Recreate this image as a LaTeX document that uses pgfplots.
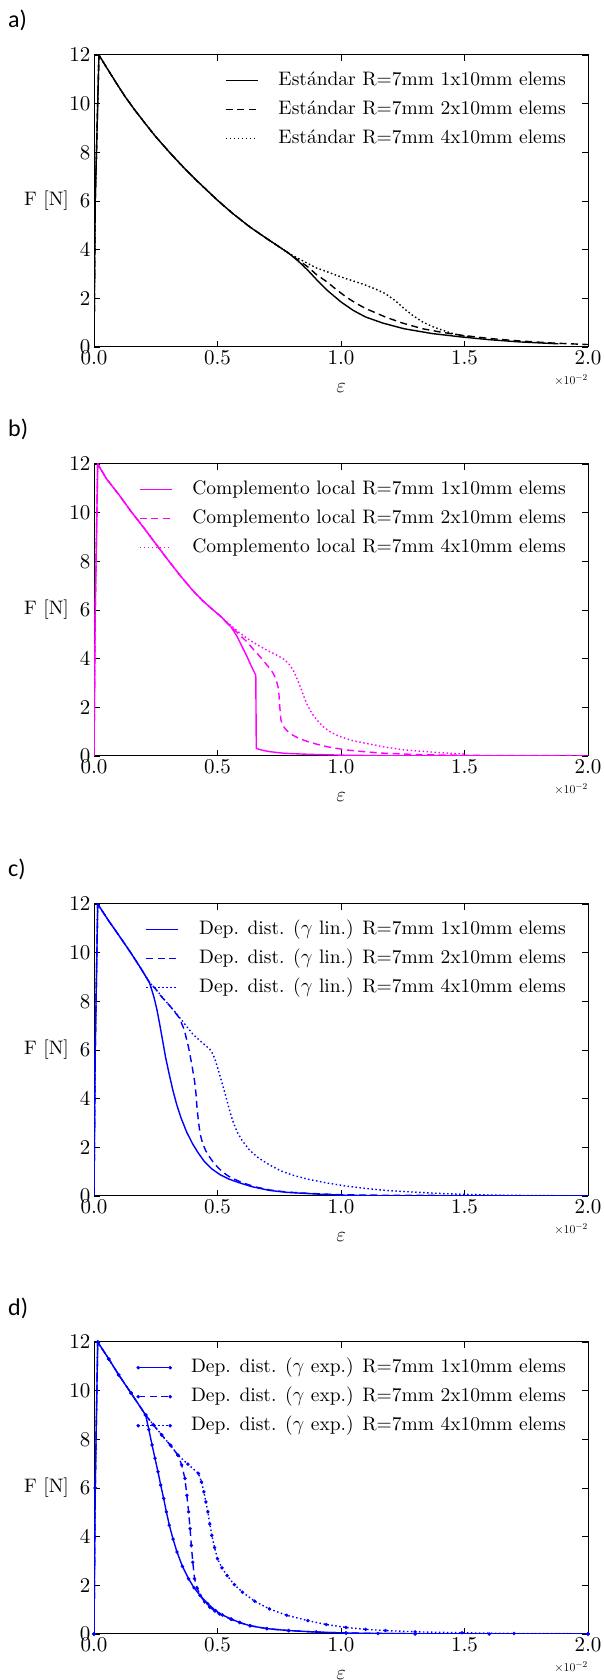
\documentclass[border=0pt]{standalone}
\usepackage{fontspec}
\setmainfont{lmroman10-regular.otf}
\newfontfamily\labfont{Carlito}
\usepackage{pgfplots}
\pgfplotsset{compat=1.18}
\definecolor{mag}{rgb}{1,0,1}
\definecolor{blu}{rgb}{0,0,1}

\pgfplotsset{
  panel/.style={
    width=494pt, height=292pt, scale only axis,
    anchor=south west,
    xmin=0, xmax=2, ymin=0, ymax=12,
    xtick={0,0.5,1,1.5,2}, xticklabels={0.0,0.5,1.0,1.5,2.0},
    ytick={0,2,4,6,8,10,12}, yticklabels={0,2,4,6,8,10,12},
    tick align=inside, xtick pos=both, ytick pos=both,
    major tick length=6pt,
    tick style={line width=0.8pt, black},
    axis line style={line width=1pt},
    tick label style={font=\fontsize{21}{25}\selectfont},
    every axis plot/.append style={line width=1.4pt},
    legend cell align=left,
    legend style={draw=none, fill=none, at={(rel axis cs:1,1)}, anchor=north east,
      xshift=-17pt, yshift=-12pt, font=\fontsize{19.5}{23}\selectfont, row sep=6pt,
      nodes={inner sep=2pt, text height=14pt, text depth=5pt},
      /tikz/every odd column/.append style={column sep=18pt}},
    legend image code/.code={\draw[##1] plot coordinates {(0pt,0pt) (32pt,0pt)};},
  },
  dsh/.style={dash pattern=on 7pt off 4.5pt},
  dot/.style={dash pattern=on 1.5pt off 2.5pt},
  mk/.style={mark=*, mark size=0.9pt, mark options={solid}},
}

\begin{document}
\begin{tikzpicture}
\path[use as bounding box] (0pt,0pt) rectangle (604pt,1680pt);

% ---------------- a) Estandar
\begin{axis}[panel, name=pa, at={(94pt,1333pt)}]
\addplot[black] coordinates {(0,0)(0.005,6)(0.02,12)(0.05,11.5)(0.087,10.9)(0.125,10.3)(0.165,9.74)(0.21,9.15)(0.25,8.64)(0.31,7.95)(0.37,7.3)(0.43,6.7)(0.5,6.03)(0.56,5.5)(0.63,4.94)(0.7,4.45)(0.77,3.98)(0.79,3.84)
  (0.83,3.5)(0.866,3.15)(0.9,2.78)(0.944,2.33)(1.0,1.85)(1.05,1.5)(1.1,1.23)(1.17,0.98)(1.255,0.75)(1.37,0.55)(1.49,0.41)(1.6,0.3)(1.72,0.21)(1.88,0.13)};
\addlegendentry{Estándar R=7mm 1x10mm elems}
\addplot[black, dsh] coordinates {(0,0)(0.005,6)(0.02,12)(0.05,11.5)(0.087,10.9)(0.125,10.3)(0.165,9.74)(0.21,9.15)(0.25,8.64)(0.31,7.95)(0.37,7.3)(0.43,6.7)(0.5,6.03)(0.56,5.5)(0.63,4.94)(0.7,4.45)(0.77,3.98)(0.79,3.84)
  (0.83,3.55)(0.866,3.29)(0.9,2.98)(0.944,2.67)(0.98,2.37)(1.02,2.06)(1.06,1.8)(1.1,1.58)(1.18,1.23)(1.25,0.98)(1.33,0.75)(1.41,0.6)(1.49,0.48)(1.6,0.35)(1.72,0.25)(1.86,0.16)(2.0,0.10)};
\addlegendentry{Estándar R=7mm 2x10mm elems}
\addplot[black, dot] coordinates {(0,0)(0.005,6)(0.02,12)(0.05,11.5)(0.087,10.9)(0.125,10.3)(0.165,9.74)(0.21,9.15)(0.25,8.64)(0.31,7.95)(0.37,7.3)(0.43,6.7)(0.5,6.03)(0.56,5.5)(0.63,4.94)(0.7,4.45)(0.77,3.98)(0.79,3.84)
  (0.83,3.62)(0.866,3.43)(0.9,3.25)(0.944,3.09)(0.98,2.95)(1.02,2.81)(1.06,2.68)(1.1,2.54)(1.14,2.38)(1.18,2.19)(1.22,1.9)(1.255,1.58)(1.29,1.3)(1.33,1.03)(1.37,0.84)(1.41,0.69)(1.45,0.56)(1.49,0.46)(1.52,0.42)};
\addlegendentry{Estándar R=7mm 4x10mm elems}
\end{axis}

% ---------------- b) Complemento local
\begin{axis}[panel, name=pb, at={(94pt,924pt)}]
\addplot[mag] coordinates {(0,0)(0.005,6)(0.015,12)(0.05,11.4)(0.1,10.75)(0.15,10.05)(0.2,9.4)(0.25,8.72)(0.3,8.05)(0.35,7.4)(0.4,6.8)(0.44,6.38)(0.48,6.02)(0.516,5.71)
  (0.535,5.5)(0.555,5.30)(0.58,4.9)(0.6,4.48)(0.618,4.12)(0.632,3.80)(0.645,3.52)(0.655,3.32)(0.657,0.31)(0.68,0.24)(0.71,0.18)(0.77,0.11)(0.866,0.07)(1.02,0.03)(1.2,0.01)(2.0,0)};
\addlegendentry{Complemento local R=7mm 1x10mm elems}
\addplot[mag, dsh] coordinates {(0,0)(0.005,6)(0.015,12)(0.05,11.4)(0.1,10.75)(0.15,10.05)(0.2,9.4)(0.25,8.72)(0.3,8.05)(0.35,7.4)(0.4,6.8)(0.44,6.38)(0.48,6.02)(0.516,5.71)
  (0.55,5.35)(0.585,5.03)(0.62,4.68)(0.648,4.35)(0.675,4.05)(0.695,3.8)(0.712,3.6)(0.726,3.39)(0.737,3.15)(0.745,2.84)(0.749,2.5)(0.751,2.16)(0.754,1.8)(0.757,1.48)
  (0.763,1.28)(0.773,1.13)(0.786,1.0)(0.804,0.86)(0.83,0.72)(0.866,0.59)(0.9,0.49)(0.944,0.38)(1.02,0.25)(1.1,0.17)(1.18,0.11)(1.33,0.05)(1.6,0.02)(2.0,0.01)};
\addlegendentry{Complemento local R=7mm 2x10mm elems}
\addplot[mag, dot] coordinates {(0,0)(0.005,6)(0.015,12)(0.05,11.4)(0.1,10.75)(0.15,10.05)(0.2,9.4)(0.25,8.72)(0.3,8.05)(0.35,7.4)(0.4,6.8)(0.44,6.38)(0.48,6.02)(0.516,5.71)
  (0.55,5.4)(0.585,5.10)(0.62,4.83)(0.664,4.55)(0.7,4.35)(0.741,4.14)(0.768,3.98)(0.788,3.8)(0.805,3.55)(0.819,3.25)(0.835,2.85)(0.85,2.43)(0.865,2.07)(0.882,1.75)
  (0.905,1.45)(0.928,1.2)(0.955,1.0)(0.99,0.82)(1.04,0.65)(1.1,0.52)(1.17,0.38)(1.255,0.25)(1.33,0.19)(1.4,0.14)(1.5,0.08)};
\addlegendentry{Complemento local R=7mm 4x10mm elems}
\end{axis}

% ---------------- c) Dep. dist. (gamma lin.)
\begin{axis}[panel, name=pc, at={(94pt,484pt)}]
\addplot[blu] coordinates {(0,0)(0.005,6)(0.015,12)(0.06,11.3)(0.1,10.72)(0.15,9.98)(0.19,9.35)(0.224,8.78)
  (0.233,8.5)(0.243,8.16)(0.255,7.65)(0.266,7.06)(0.278,6.38)(0.29,5.69)(0.305,4.98)(0.32,4.32)(0.335,3.75)(0.352,3.22)(0.375,2.63)(0.4,2.13)(0.42,1.8)(0.445,1.44)
  (0.475,1.13)(0.508,0.89)(0.545,0.7)(0.586,0.55)(0.64,0.38)(0.71,0.23)(0.78,0.15)(0.866,0.10)(0.94,0.06)(1.02,0.03)(1.2,0)(2.0,0)};
\addlegendentry{Dep. dist. ($\gamma$ lin.) R=7mm 1x10mm elems}
\addplot[blu, dsh] coordinates {(0,0)(0.005,6)(0.015,12)(0.06,11.3)(0.1,10.72)(0.15,9.98)(0.19,9.35)(0.224,8.78)
  (0.25,8.5)(0.274,8.18)(0.31,7.78)(0.344,7.34)(0.365,6.85)(0.383,6.1)(0.396,5.4)(0.407,4.73)(0.413,4.2)(0.417,3.63)(0.423,3.05)(0.43,2.54)(0.44,2.15)(0.453,1.85)
  (0.468,1.6)(0.484,1.37)(0.5,1.19)(0.516,1.03)(0.535,0.88)(0.555,0.75)(0.6,0.55)(0.65,0.38)(0.71,0.25)(0.78,0.16)(0.866,0.11)(1.0,0.05)(1.18,0.03)(2.0,0)};
\addlegendentry{Dep. dist. ($\gamma$ lin.) R=7mm 2x10mm elems}
\addplot[blu, dot] coordinates {(0,0)(0.005,6)(0.015,12)(0.06,11.3)(0.1,10.72)(0.15,9.98)(0.19,9.35)(0.224,8.78)
  (0.25,8.5)(0.274,8.2)(0.305,7.83)(0.336,7.47)(0.37,7.03)(0.4,6.65)(0.435,6.33)(0.469,6.03)(0.482,5.82)(0.492,5.55)(0.504,5.15)(0.516,4.73)(0.528,4.3)(0.539,3.9)
  (0.55,3.48)(0.562,3.08)(0.58,2.62)(0.601,2.26)(0.63,1.88)(0.664,1.58)(0.71,1.28)(0.757,1.03)(0.81,0.84)(0.866,0.69)(0.94,0.54)(1.02,0.41)(1.1,0.31)(1.18,0.23)
  (1.26,0.18)(1.33,0.14)(1.41,0.1)(1.49,0.07)(1.64,0.03)(2.0,0)};
\addlegendentry{Dep. dist. ($\gamma$ lin.) R=7mm 4x10mm elems}
\end{axis}

% ---------------- d) Dep. dist. (gamma exp.)
\begin{axis}[panel, name=pd, at={(94pt,46pt)}]
\addplot[blu, mk] coordinates {(0,0)(0.005,6)(0.015,12)(0.06,11.3)(0.1,10.65)(0.15,9.9)(0.209,9.0)
  (0.222,8.4)(0.235,7.77)(0.247,7.22)(0.259,6.67)(0.27,6.12)(0.282,5.57)(0.293,5.02)(0.305,4.47)(0.32,3.9)(0.336,3.37)(0.358,2.78)(0.383,2.27)(0.405,1.9)(0.43,1.58)
  (0.46,1.25)(0.492,0.96)(0.52,0.78)(0.555,0.62)(0.59,0.47)(0.632,0.34)(0.7,0.22)(0.788,0.14)(0.9,0.08)(1.02,0.04)(1.15,0.02)(1.3,0.01)(1.6,0)(2.0,0)};
\addlegendentry{Dep. dist. ($\gamma$ exp.) R=7mm 1x10mm elems}
\addplot[blu, dsh, mk] coordinates {(0,0)(0.005,6)(0.015,12)(0.06,11.3)(0.1,10.65)(0.15,9.9)(0.209,9.0)
  (0.24,8.6)(0.274,8.18)(0.31,7.75)(0.34,7.35)(0.355,6.95)(0.368,6.39)(0.376,5.7)(0.383,5.02)(0.389,4.33)(0.394,3.64)(0.4,2.95)(0.407,2.27)(0.418,1.88)(0.43,1.58)
  (0.448,1.32)(0.469,1.1)(0.488,0.95)(0.508,0.82)(0.555,0.6)(0.59,0.47)(0.632,0.34)(0.7,0.22)(0.788,0.14)(0.9,0.08)(1.02,0.04)(1.3,0.01)(2.0,0)};
\addlegendentry{Dep. dist. ($\gamma$ exp.) R=7mm 2x10mm elems}
\addplot[blu, dot, mk] coordinates {(0,0)(0.005,6)(0.015,12)(0.06,11.3)(0.1,10.65)(0.15,9.9)(0.209,9.0)
  (0.24,8.6)(0.274,8.18)(0.31,7.75)(0.34,7.35)(0.38,6.98)(0.423,6.6)(0.435,6.25)(0.445,5.84)(0.453,5.43)(0.461,5.02)(0.469,4.52)(0.477,4.05)(0.488,3.55)(0.5,3.09)
  (0.518,2.72)(0.539,2.4)(0.568,2.03)(0.601,1.72)(0.65,1.35)(0.71,1.03)(0.78,0.77)(0.866,0.55)(0.94,0.39)(1.02,0.27)(1.1,0.19)(1.18,0.14)(1.3,0.09)(1.49,0.05)
  (1.7,0.02)(2.0,0.01)};
\addlegendentry{Dep. dist. ($\gamma$ exp.) R=7mm 4x10mm elems}
\end{axis}

% ---------------- labels
\foreach \p/\l/\yb in {pa/a/1652, pb/b/1243, pc/c/803, pd/d/364} {
  \node[anchor=base west, inner sep=0, font=\labfont\fontsize{24}{28}\selectfont] at (8pt,\yb pt) {\l)};
  \node[anchor=east, inner sep=0, font=\fontsize{19.5}{23}\selectfont] at ([xshift=-25pt]\p.west) {F [N]};
  \node[anchor=center, inner sep=0, font=\fontsize{21}{25}\selectfont] at ([yshift=-41pt]\p.south) {$\varepsilon$};
  \node[anchor=east, inner sep=0, font=\fontsize{13}{15}\selectfont] at ([yshift=-33pt]\p.south east) {$\times10^{-2}$};
}
\end{tikzpicture}
\end{document}
